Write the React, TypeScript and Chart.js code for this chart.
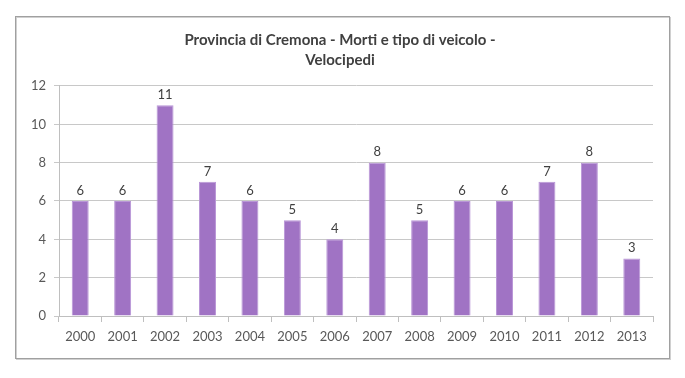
import React, { useEffect, useRef } from "react";
import { Chart, registerables } from "chart.js";

Chart.register(...registerables);

const categories = ["2000", "2001", "2002", "2003", "2004", "2005", "2006", "2007", "2008", "2009", "2010", "2011", "2012", "2013"];
const deaths = [6, 6, 11, 7, 6, 5, 4, 8, 5, 6, 6, 7, 8, 3];
const titleLines = ["Provincia di Cremona - Morti e tipo di veicolo -", "Velocipedi"];

const FONT = "Lato, 'Open Sans', sans-serif";

const framePlugin = {
  id: "frame",
  beforeDraw(chart: any) {
    const ctx = chart.ctx;
    ctx.save();
    ctx.fillStyle = "#ffffff";
    ctx.fillRect(0, 0, chart.width, chart.height);
    ctx.strokeStyle = "#d0d0d0";
    ctx.lineWidth = 1;
    ctx.strokeRect(16.5, 17.5, 654, 342);
    ctx.strokeStyle = "#a0a0a0";
    ctx.strokeRect(15.5, 16.5, 654, 342);
    ctx.restore();
  },
};

const labelPlugin = {
  id: "valueLabels",
  afterDatasetsDraw(chart: any) {
    const ctx = chart.ctx;
    const meta = chart.getDatasetMeta(0);
    const data = chart.data.datasets[0].data;
    ctx.save();
    ctx.font = `13px ${FONT}`;
    ctx.fillStyle = "#404040";
    ctx.textAlign = "center";
    ctx.textBaseline = "bottom";
    meta.data.forEach((bar: any, i: number) => {
      ctx.fillText(String(data[i]), bar.x, bar.y - 4);
    });
    ctx.restore();
  },
};

export default function App() {
  const ref = useRef<HTMLCanvasElement>(null);
  useEffect(() => {
    if (!ref.current) return;
    const chart = new Chart(ref.current, {
      type: "bar",
      data: {
        labels: categories,
        datasets: [
          {
            data: deaths,
            backgroundColor: "rgb(160,115,196)",
            borderColor: "rgb(185,150,215)",
            borderWidth: 1,
            barPercentage: 0.4,
            categoryPercentage: 1,
          },
        ],
      },
      options: {
        animation: false,
        responsive: false,
        layout: { padding: { left: 27, right: 32, top: 0, bottom: 18 } },
        plugins: {
          legend: { display: false },
          tooltip: { enabled: false },
          title: {
            display: true,
            text: titleLines,
            color: "#404040",
            font: { family: FONT, size: 15, weight: "bold", lineHeight: 1.333 },
            padding: { top: 30, bottom: 16 },
          },
        },
        scales: {
          x: {
            grid: { display: true, drawOnChartArea: false, offset: true, tickLength: 6, color: "#bfbfbf" },
            border: { color: "#bfbfbf" },
            ticks: { color: "#595959", font: { family: FONT, size: 13 }, padding: 7, maxRotation: 0 },
            afterFit(scale: any) {
              scale.height = 44;
            },
          },
          y: {
            min: 0,
            max: 12,
            ticks: { stepSize: 2, color: "#595959", font: { family: FONT, size: 13 }, padding: 8 },
            grid: { color: "#c8c8c8", tickLength: 5 },
            border: { color: "#bfbfbf" },
            afterFit(scale: any) {
              scale.width = 32;
            },
          },
        },
      },
      plugins: [framePlugin, labelPlugin],
    });
    return () => chart.destroy();
  }, []);
  return (
    <div style={{ position: "fixed", left: 0, top: 0, width: 685, height: 378 }}>
      <canvas ref={ref} width={685} height={378} style={{ display: "block" }} />
    </div>
  );
}
